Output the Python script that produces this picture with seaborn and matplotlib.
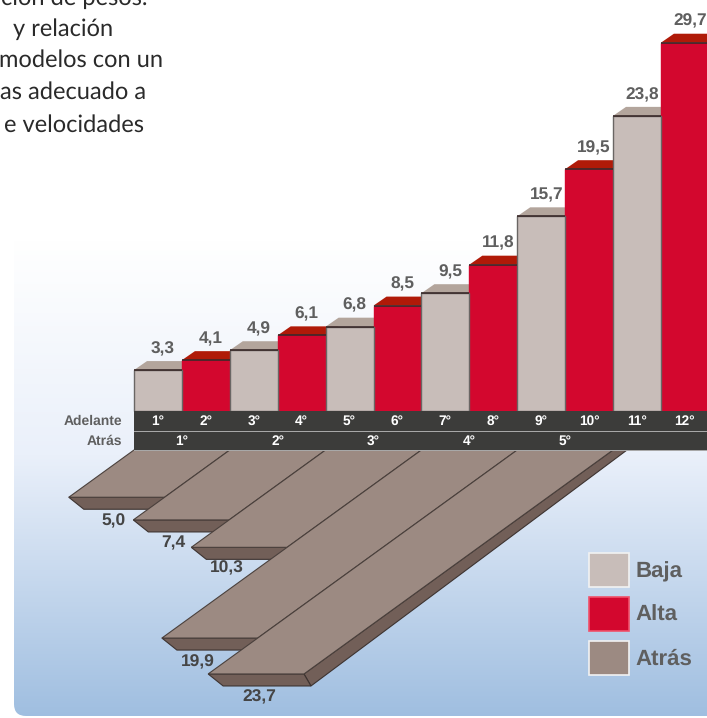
import numpy as np
import pandas as pd
import seaborn as sns
import matplotlib.pyplot as plt
from matplotlib.colors import LinearSegmentedColormap
from matplotlib.patches import FancyBboxPatch, Patch, Rectangle

# data
marchas = ['1°', '2°', '3°', '4°', '5°', '6°', '7°', '8°', '9°', '10°', '11°', '12°']
velocidades = [3.3, 4.1, 4.9, 6.1, 6.8, 8.5, 9.5, 11.8, 15.7, 19.5, 23.8, 29.7]
gamas = ['Baja', 'Alta'] * 6
marchas_atras = ['1°', '2°', '3°', '4°', '5°']
velocidades_atras = [5.0, 7.4, 10.3, 19.9, 23.7]

# layout, in image pixels
W, H = 707, 718
BAR_LEFT, BAR_W, BASE_Y, PX_PER_KMH = 134, 47.9, 411, 12.4
FLOOR_Y = 450
FLOOR_DY, FLOOR_DX = 9.45, -13.04
OFF_ATRAS = [(30, 12), (25, 11), (21, 9), (21, 12), (36, 11)]

colores = {'Baja': '#c8bdb9', 'Alta': '#d3072e'}
tapas = {'Baja': '#b3a59c', 'Alta': '#b01a08'}
bordes = {'Baja': '#6a6664', 'Alta': '#d3072e'}
GRIS = '#5f5f5f'

sns.set_theme(style='white')
plt.rcParams['font.family'] = ['Liberation Sans', 'DejaVu Sans']
plt.rcParams['text.hinting'] = 'no_hinting'

fig = plt.figure(figsize=(W / 100, H / 100), dpi=100, facecolor='white')

# background panel
bg = fig.add_axes([0, 0, 1, 1])
bg.axis('off')
grad = LinearSegmentedColormap.from_list('fondo', [(0, '#ffffff'), (0.45, '#eaf0fa'), (1, '#9fbee0')])
img = bg.imshow(np.linspace(0, 1, 256).reshape(-1, 1), cmap=grad, aspect='auto', extent=(14, 730, 718, 240))
panel = FancyBboxPatch((14, 200), 740, 516, boxstyle='round,pad=0,rounding_size=12', transform=bg.transData,
                       facecolor='none', edgecolor='none')
bg.add_patch(panel)
img.set_clip_path(panel)
bg.set_xlim(0, W)
bg.set_ylim(H, 0)

# intro text, the first line runs off the top like in the original
parrafo = [('ción de pesos.', 147, 5), ('y relación', 113, 35.5), ('modelos con un', 163, 67),
           ('as adecuado a', 146, 99), ('e velocidades', 144, 131.5)]
for linea, x, y in parrafo:
    bg.text(x, y, linea, family='Lato', fontsize=17, color='#2a2a2a', va='baseline', ha='right')

# chart axes, scaled so that values land on the reference's pixels
ax = fig.add_axes([0, 0, 1, 1], facecolor='none')
df = pd.DataFrame({'marcha': marchas, 'vel': velocidades, 'gama': gamas})
sns.barplot(data=df, x='marcha', y='vel', hue='gama', dodge=False, palette=colores, width=1, saturation=1,
            legend=False, ax=ax, zorder=3)
for cont, gama in zip(ax.containers, ['Baja', 'Alta']):
    for bar in cont:
        bar.set_edgecolor(bordes[gama])
        bar.set_linewidth(1)
        bar.set_zorder(3.5 if gama == 'Baja' else 3)

dx_cap, dy_cap = 13 / BAR_W, 9 / PX_PER_KMH
for i, (v, g) in enumerate(zip(velocidades, gamas)):
    ax.fill([i - .5, i - .5 + dx_cap, i + .5 + dx_cap, i + .5], [v, v + dy_cap, v + dy_cap, v],
            color=tapas[g], lw=0, zorder=2)
    ax.plot([i - .5, i + .5], [v, v], color='#3a2a2a', lw=1.2, zorder=4, solid_capstyle='butt')
    ax.annotate(f'{v:.1f}'.replace('.', ','), (i + dx_cap / 2, v + dy_cap), xytext=(-1, 3.2), textcoords='offset points',
                ha='center', va='bottom', fontsize=12.4, fontweight='bold', color=GRIS, annotation_clip=False)

# reverse gears as floor planes
y_floor = (BASE_Y - FLOOR_Y) / PX_PER_KMH
kx, ky = FLOOR_DX / BAR_W, FLOOR_DY / PX_PER_KMH
fx, fy = 1 / BAR_W, 1 / PX_PER_KMH
for n, v in enumerate(velocidades_atras):
    x0, x1 = 2 * n - .5, 2 * n + 1.5
    xl, xr, y = x0 + kx * v, x1 + kx * v, y_floor - ky * v
    ax.fill([xr, x1, x1 + 14 * fx, xr + 7 * fx], [y, y_floor, y_floor, y - 12 * fy],
            facecolor='#725f58', edgecolor='#3d3330', lw=.8, zorder=5 + n)
    ax.fill([xl, xr, xr + 7 * fx, xl + 15 * fx], [y, y, y - 12 * fy, y - 12 * fy],
            facecolor='#725f58', edgecolor='#3d3330', lw=.8, zorder=5 + n)
    ax.fill([x0, x1, xr, xl], [y_floor, y_floor, y, y],
            facecolor='#9c8a82', edgecolor='#4a403c', lw=.8, zorder=5 + n)
    ox, oy = OFF_ATRAS[n]
    ax.annotate(f'{v:.1f}'.replace('.', ','), (xl + 15 * fx, y - 12 * fy), xytext=(ox * .72, -oy * .72),
                textcoords='offset points', ha='center', va='center', fontsize=12.5, fontweight='bold',
                color='#454545', zorder=20)

ax.set_xlim(-BAR_LEFT / BAR_W - .5, (W - BAR_LEFT) / BAR_W - .5)
ax.set_ylim((BASE_Y - H) / PX_PER_KMH, BASE_Y / PX_PER_KMH)
ax.axis('off')

# gear bands
for y0, alto in [(411, 20), (432, 18)]:
    ax.add_patch(Rectangle((BAR_LEFT, y0), W - BAR_LEFT, alto, transform=bg.transData, facecolor='#3c3c3a',
                           edgecolor='none', zorder=15))
for y0 in (431, 450):
    ax.add_patch(Rectangle((BAR_LEFT, y0), W - BAR_LEFT, 1, transform=bg.transData, facecolor='#a8a8a8',
                           edgecolor='none', zorder=15))
for i, m in enumerate(marchas):
    ax.text(i, (BASE_Y - 421.5) / PX_PER_KMH, m, ha='center', va='center', color='white', fontsize=9.8,
            fontweight='bold', zorder=16)
for n, m in enumerate(marchas_atras):
    ax.text(2 * n + .5, (BASE_Y - 441) / PX_PER_KMH, m, ha='center', va='center', color='white', fontsize=9.8,
            fontweight='bold', zorder=16)
for y, t in [(421.5, 'Adelante'), (441, 'Atrás')]:
    ax.text(-.5 - 12 / BAR_W, (BASE_Y - y) / PX_PER_KMH, t, ha='right', va='center', color=GRIS, fontsize=10,
            fontweight='bold', zorder=16)

# legend
handles = [Patch(facecolor=colores['Baja'], edgecolor='#f2f2f2', lw=1.2, label='Baja'),
           Patch(facecolor=colores['Alta'], edgecolor='#f0506a', lw=1.2, label='Alta'),
           Patch(facecolor='#9c8a82', edgecolor='#f2f2f2', lw=1.2, label='Atrás')]
leg = ax.legend(handles=handles, loc='lower left', bbox_to_anchor=(589, 675), bbox_transform=bg.transData, frameon=False,
                handlelength=1.8, handleheight=1.98, labelspacing=.45, handletextpad=.3,
                borderpad=0, borderaxespad=0, prop={'family': 'Liberation Sans', 'weight': 'bold', 'size': 16})
leg.set_zorder(30)
for t in leg.get_texts():
    t.set_color(GRIS)

fig.savefig('out.png', dpi=100)
